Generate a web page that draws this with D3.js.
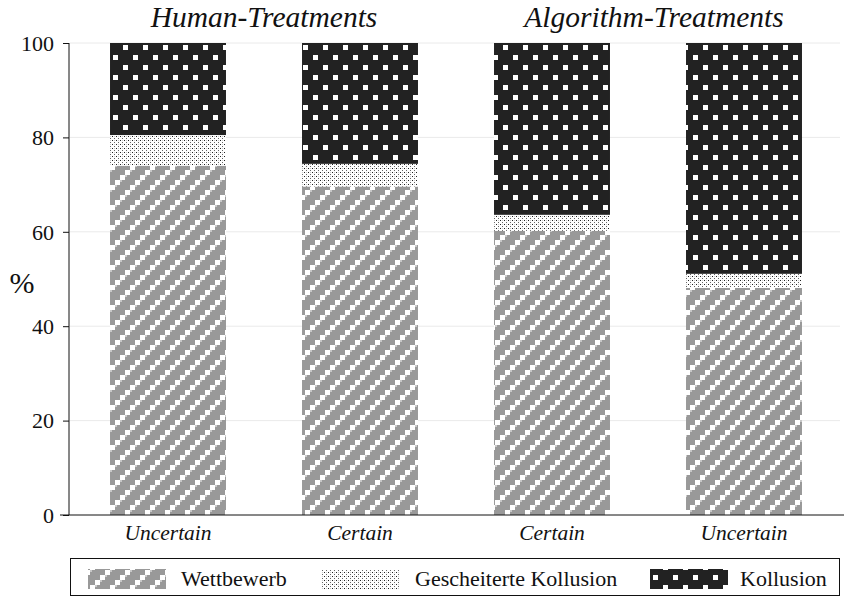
<!DOCTYPE html>
<html><head><meta charset="utf-8">
<script src="https://cdn.jsdelivr.net/npm/d3@7"></script>
<style>body{margin:0;background:#fff}svg{display:block}text{font-family:"Liberation Serif","Times New Roman",serif;fill:#111}</style>
</head><body>
<script>
const categories = ["Uncertain","Certain","Certain","Uncertain"];
const groups = ["Human-Treatments","Algorithm-Treatments"];
const groupOf = [0,0,1,1];
const seriesNames = ["Wettbewerb","Gescheiterte Kollusion","Kollusion"];
const wettbewerb = [74.0, 69.6, 60.2, 48.1];
const gescheitert = [6.5, 4.8, 3.4, 3.0];
const kollusion = [19.5, 25.6, 36.4, 48.9];
const yTicks = [0,20,40,60,80,100];

const W=844,H=597;
const svg=d3.select("body").append("svg").attr("width",W).attr("height",H);
const defs=svg.append("defs");
// Wettbewerb pattern
const p1=defs.append("pattern").attr("id","pw").attr("patternUnits","userSpaceOnUse").attr("width",20).attr("height",20);
p1.append("rect").attr("width",20).attr("height",20).attr("fill","#999");
[[0,15],[5,10],[10,5],[15,0]].forEach(([x,y])=>p1.append("rect").attr("x",x).attr("y",y).attr("width",5).attr("height",5).attr("fill","#fff"));
[[5,15],[10,10],[15,5],[0,0]].forEach(([x,y])=>p1.append("rect").attr("x",x).attr("y",y).attr("width",2).attr("height",2).attr("fill","#c8c8c8"));
// Gescheitert pattern
const p2=defs.append("pattern").attr("id","pg").attr("patternUnits","userSpaceOnUse").attr("width",4).attr("height",4);
p2.append("rect").attr("width",4).attr("height",4).attr("fill","#fff");
p2.append("rect").attr("x",0).attr("y",0).attr("width",1).attr("height",1).attr("fill","#222");
p2.append("rect").attr("x",2).attr("y",2).attr("width",1).attr("height",1).attr("fill","#666");
p2.append("rect").attr("x",2).attr("y",0).attr("width",1).attr("height",1).attr("fill","#ccc");
// Kollusion pattern
const p3=defs.append("pattern").attr("id","pk").attr("patternUnits","userSpaceOnUse").attr("width",20).attr("height",20);
p3.append("rect").attr("width",20).attr("height",20).attr("fill","#222");
p3.append("rect").attr("x",3).attr("y",5).attr("width",5).attr("height",5).attr("fill","#fff");
p3.append("rect").attr("x",13).attr("y",15).attr("width",5).attr("height",5).attr("fill","#fff");
const fills=["url(#pw)","url(#pg)","url(#pk)"];

const x=d3.scaleBand().domain(d3.range(categories.length)).range([72,840]).paddingInner(0.396).paddingOuter(0.198);
const y=d3.scaleLinear().domain([0,100]).range([515,43]);

// grid
svg.append("g").selectAll("line").data(yTicks.filter(d=>d>0)).join("line")
 .attr("x1",70).attr("x2",840).attr("y1",d=>y(d)).attr("y2",d=>y(d)).attr("stroke","#eaeaea").attr("stroke-width",1);

// stacks
const rows=categories.map((c,i)=>({i,w:wettbewerb[i],g:gescheitert[i],k:kollusion[i]}));
const stack=d3.stack().keys(["w","g","k"])(rows);
svg.append("g").selectAll("g").data(stack).join("g").attr("fill",(d,i)=>fills[i])
 .selectAll("rect").data(d=>d).join("rect")
 .attr("x",d=>x(d.data.i)).attr("width",x.bandwidth())
 .attr("y",d=>y(d[1])).attr("height",d=>y(d[0])-y(d[1]));

// y axis
const ya=svg.append("g").attr("transform","translate(69,0)").call(d3.axisLeft(y).tickValues(yTicks).tickSize(6).tickPadding(9));
ya.select(".domain").attr("stroke","#111").attr("d","M0,43V515");
ya.selectAll(".tick line").attr("stroke","#111");
ya.selectAll("text").style("font-size","22px").style("font-family","Liberation Serif").attr("fill","#111").attr("dy","0.33em");
// x axis
const xa=svg.append("g").attr("transform","translate(0,515)").call(d3.axisBottom(x).tickSize(0).tickPadding(10).tickFormat(i=>categories[i]));
xa.select(".domain").attr("stroke","#111").attr("d","M60,0H844");
xa.selectAll("text").style("font-size","21.5px").style("font-style","italic").style("font-family","Liberation Serif").attr("fill","#111");

svg.append("text").attr("x",22).attr("y",293).attr("text-anchor","middle").style("font-size","30px").text("%");

// group titles
groups.forEach((g,gi)=>{
  const idx=d3.range(categories.length).filter(i=>groupOf[i]===gi);
  const cx=d3.mean(idx,i=>x(i)+x.bandwidth()/2);
  svg.append("text").attr("x",cx+(gi===1?6:0)).attr("y",27).attr("text-anchor","middle").style("font-size","29.5px").style("font-style","italic").text(g);
});

// legend
svg.append("rect").attr("x",70.5).attr("y",558.5).attr("width",769).attr("height",37).attr("fill","none").attr("stroke","#111");
const legX=[88,322,650];
seriesNames.forEach((s,i)=>{
  svg.append("rect").attr("x",legX[i]).attr("y",569).attr("width",78).attr("height",20).attr("fill",fills[i]);
  svg.append("text").attr("x",legX[i]+(i===2?90:93)).attr("y",586).style("font-size","22px").text(s);
});
</script>
</body></html>
